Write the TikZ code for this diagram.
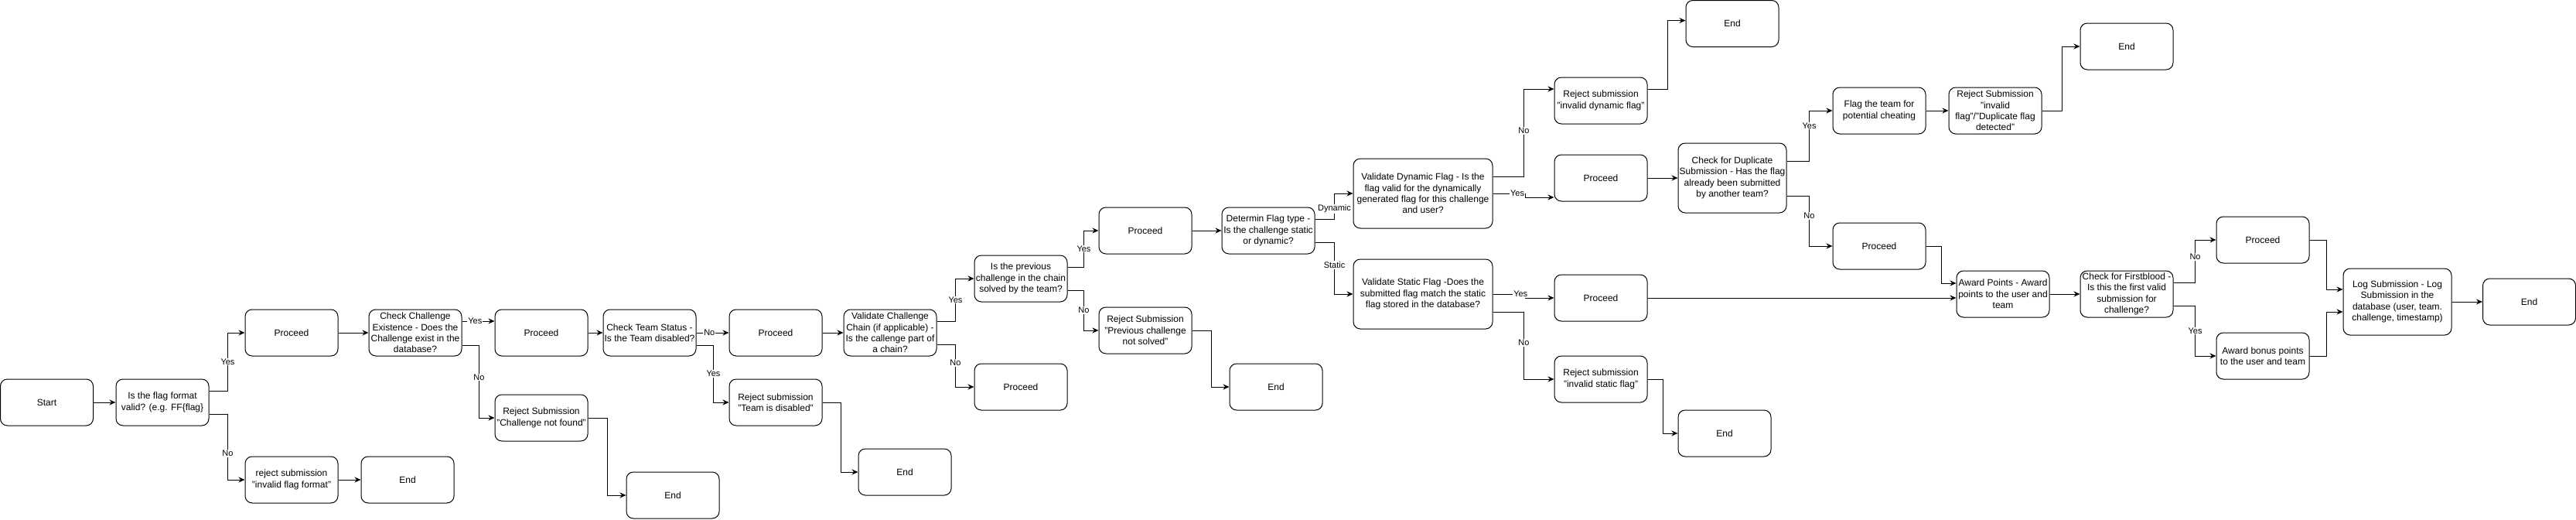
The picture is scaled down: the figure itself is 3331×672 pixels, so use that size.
\documentclass[tikz,border=0pt]{standalone}
\usepackage{fontspec}
\setmainfont{Liberation Sans}
\usetikzlibrary{arrows.meta}

\begin{document}
\begin{tikzpicture}[x=1pt,y=-1pt,
	blk/.style={draw,line width=1pt,rounded corners=9pt,minimum width=120pt,minimum height=60pt,align=center,inner sep=1pt,font=\fontsize{12}{14.4}\selectfont},
	wide/.style={blk,minimum width=180pt,minimum height=90pt},
	mid/.style={blk,minimum width=140pt,minimum height=90pt},
	arr/.style={line width=1pt,-{Stealth[length=8pt,width=7pt]}},
	lbl/.style={fill=white,inner sep=1pt,font=\fontsize{11}{12}\selectfont}]
	\useasboundingbox (0,0) rectangle (3331,672);

	\node[blk] (start) at (60.5,520) {Start};
	\node[blk] (valid) at (210,520) {Is the flag format\\valid? (e.g. FF\{flag\}};
	\node[blk] (pro1) at (377,430) {Proceed};
	\node[blk] (rejfmt) at (377,620) {reject submission\\"invalid flag format"};
	\node[blk] (end1) at (527,620) {End};
	\node[blk] (exist) at (537,430) {Check Challenge\\Existence - Does the\\Challenge exist in the\\database?};
	\node[blk] (pro2) at (700,430) {Proceed};
	\node[blk] (rejchal) at (700,540) {Reject Submission\\"Challenge not found"};
	\node[blk] (end2) at (870,640) {End};
	\node[blk] (team) at (840,430) {Check Team Status -\\Is the Team disabled?};
	\node[blk] (pro3) at (1003,430) {Proceed};
	\node[blk] (rejteam) at (1003,520) {Reject submission\\"Team is disabled"};
	\node[blk] (end3) at (1170,610) {End};
	\node[blk] (chain) at (1151,430) {Validate Challenge\\Chain (if applicable) -\\Is the callenge part of\\a chain?};
	\node[blk] (prev) at (1320,360) {Is the previous\\challenge in the chain\\solved by the team?};
	\node[blk] (pro4) at (1320,500) {Proceed};
	\node[blk] (pro5) at (1481,298) {Proceed};
	\node[blk] (rejprev) at (1481,427) {Reject Submission\\"Previous challenge\\not solved"};
	\node[blk] (end4) at (1650,500) {End};
	\node[blk] (ftype) at (1640,298) {Determin Flag type -\\Is the challenge static\\or dynamic?};

	\node[wide] (dyn) at (1840,250) {Validate Dynamic Flag - Is the\\flag valid for the dynamically\\generated flag for this challenge\\and user?};
	\node[wide] (stat) at (1840,380) {Validate Static Flag -Does the\\submitted flag match the static\\flag stored in the database?};
	\node[blk] (rejdyn) at (2070,130) {Reject submission\\"invalid dynamic flag"};
	\node[blk] (end5) at (2240,30.5) {End};
	\node[blk] (pro6) at (2070,230) {Proceed};
	\node[mid] (dup) at (2240,230) {Check for Duplicate\\Submission - Has the flag\\already been submitted\\by another team?};
	\node[blk] (cheat) at (2430,143) {Flag the team for\\potential cheating};
	\node[blk] (rejdup) at (2580,143) {Reject Submission\\"invalid\\flag"/"Duplicate flag\\detected"};
	\node[blk] (end6) at (2750,60) {End};
	\node[blk] (pro7) at (2430,318) {Proceed};
	\node[blk] (pro8) at (2070,385) {Proceed};
	\node[blk] (rejstat) at (2070,490) {Reject submission\\"invalid static flag"};
	\node[blk] (end7) at (2230,560) {End};

	\node[blk] (award) at (2590,380) {Award Points - Award\\points to the user and\\team};
	\node[blk] (blood) at (2750,380) {Check for Firstblood -\\Is this the first valid\\submission for\\challenge?};
	\node[blk] (pro9) at (2926,310) {Proceed};
	\node[blk] (bonus) at (2926,460) {Award bonus points\\to the user and team};
	\node[mid,minimum height=86pt] (log) at (3100,390) {Log Submission - Log\\Submission in the\\database (user, team.\\challenge, timestamp)};
	\node[blk] (end8) at (3270.5,390) {End};

	% connectors
	\draw[arr] (start) -- (valid);
	\draw[arr] ([yshift=15pt]valid.east) -- ++(24,0) |- node[lbl,pos=0.25]{Yes} (pro1.west);
	\draw[arr] ([yshift=-15pt]valid.east) -- ++(24,0) |- node[lbl,pos=0.3]{No} (rejfmt.west);
	\draw[arr] (pro1) -- (exist);
	\draw[arr] (rejfmt) -- (end1);
	\draw[arr] ([yshift=15pt]exist.east) -- node[lbl,pos=0.4]{Yes} ([yshift=15pt]pro2.west);
	\draw[arr] ([yshift=-16pt]exist.east) -- ++(22,0) |- node[lbl,pos=0.22]{No} (rejchal.west);
	\draw[arr] (pro2) -- (team);
	\draw[arr] (team) -- node[lbl,pos=0.4]{No} (pro3);
	\draw[arr] ([yshift=-16pt]team.east) -- ++(22,0) |- node[lbl,pos=0.25]{Yes} (rejteam.west);
	\draw[arr] (rejchal.east) -- ++(25,0) |- (end2.west);
	\draw[arr] (rejteam.east) -- ++(24,0) |- (end3.west);
	\draw[arr] (pro3) -- (chain);
	\draw[arr] ([yshift=15pt]chain.east) -- ++(24,0) |- node[lbl,pos=0.25]{Yes} (prev.west);
	\draw[arr] ([yshift=-15pt]chain.east) -- ++(24,0) |- node[lbl,pos=0.22]{No} (pro4.west);
	\draw[arr] ([yshift=15pt]prev.east) -- ++(21,0) |- node[lbl,pos=0.25]{Yes} (pro5.west);
	\draw[arr] ([yshift=-15pt]prev.east) -- ++(21,0) |- node[lbl,pos=0.25]{No} (rejprev.west);
	\draw[arr] (rejprev.east) -- ++(25,0) |- (end4.west);
	\draw[arr] (pro5) -- (ftype);
	\draw[arr] ([yshift=15pt]ftype.east) -- ++(25,0) |- node[lbl,pos=0.2]{Dynamic} (dyn.west);
	\draw[arr] ([yshift=-15pt]ftype.east) -- ++(25,0) |- node[lbl,pos=0.22]{Static} (stat.west);

	\draw[arr] ([yshift=22pt]dyn.east) -- ++(40,0) |- node[lbl,pos=0.26]{No} ([yshift=15pt]rejdyn.west);
	\draw[arr] (dyn.east) -- ++(42,0) node[lbl,pos=0.75]{Yes} |- ([yshift=-25pt]pro6.west);
	\draw[arr] (stat.east) -- ++(42,0) node[lbl,pos=0.85]{Yes} |- (pro8.west);
	\draw[arr] ([yshift=-23pt]stat.east) -- ++(40,0) |- node[lbl,pos=0.23]{No} (rejstat.west);
	\draw[arr] ([yshift=15pt]rejdyn.east) -- ++(26,0) |- ([yshift=4pt]end5.west);
	\draw[arr] (pro6) -- (dup);
	\draw[arr] ([yshift=22pt]dup.east) -- ++(29,0) |- node[lbl,pos=0.35]{Yes} (cheat.west);
	\draw[arr] ([yshift=-23pt]dup.east) -- ++(29,0) |- node[lbl,pos=0.2]{No} (pro7.west);
	\draw[arr] (cheat) -- (rejdup);
	\draw[arr] (rejdup.east) -- ++(26,0) |- (end6.west);
	\draw[arr] (rejstat.east) -- ++(20,0) |- (end7.west);
	\draw[arr] (pro8.east) -- ([yshift=-5pt]award.west);
	\draw[arr] (pro7.east) -- ++(20,0) |- ([yshift=14pt]award.west);
	\draw[arr] (award) -- (blood);
	\draw[arr] ([yshift=15pt]blood.east) -- ++(28,0) |- node[lbl,pos=0.3]{No} (pro9.west);
	\draw[arr] ([yshift=-15pt]blood.east) -- ++(28,0) |- node[lbl,pos=0.25]{Yes} (bonus.west);
	\draw[arr] (pro9.east) -- ++(22,0) |- ([yshift=16pt]log.west);
	\draw[arr] (bonus.east) -- ++(22,0) |- ([yshift=-13pt]log.west);
	\draw[arr] (log) -- (end8);
\end{tikzpicture}
\end{document}
